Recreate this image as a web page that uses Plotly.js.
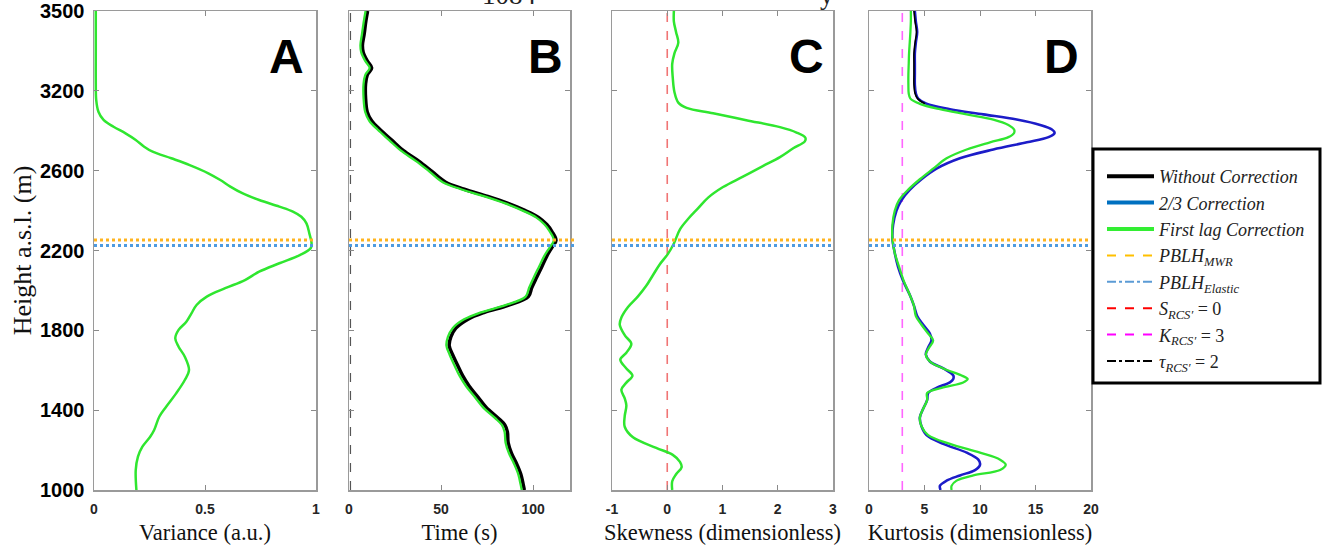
<!DOCTYPE html>
<html>
<head>
<meta charset="utf-8">
<script src="https://cdn.plot.ly/plotly-3.0.1.min.js"></script>
<style>html,body{margin:0;padding:0;background:#fff}#chart{width:1326px;height:550px}</style>
</head>
<body>
<div id="chart"></div>
<script>
// ---------- Data ----------
// Height axis tick labels (as printed in the reference)
const heightTicks = [1000, 1400, 1800, 2200, 2600, 3000, 3400];
const heightTickText = ['1000', '1400', '1800', '2200', '2600', '3200', '3500'];

// PBLH reference heights
const pblhMWR = 2253;
const pblhElastic = 2225;
// Reference vertical lines
const tauLineX = 0.8;
const skewRef = 0;
const kurtRef = 3;

// Panel A: Variance (First lag correction)
const heightA = [3400,3200,3054,2954,2895,2854,2820,2787,2754,2720,2695,2662,2628,2587,2553,2520,2487,2453,2420,2395,2369,2336,2286,2236,2211,2177,2136,2094,2052,2011,1969,1927,1885,1843,1802,1760,1718,1668,1601,1551,1484,1417,1367,1301,1267,1217,1167,1100,1000];
const varianceFirstLag = [0.008,0.008,0.008,0.010,0.020,0.043,0.088,0.142,0.188,0.226,0.264,0.348,0.431,0.515,0.569,0.614,0.668,0.744,0.835,0.896,0.934,0.957,0.970,0.980,0.976,0.927,0.835,0.744,0.680,0.591,0.508,0.462,0.439,0.416,0.381,0.366,0.381,0.409,0.428,0.409,0.370,0.325,0.294,0.271,0.253,0.218,0.198,0.188,0.191];

// Panel B: Time (s)
const heightB = [3400,3352,3282,3229,3194,3150,3115,3079,3035,2965,2894,2850,2806,2753,2700,2648,2595,2542,2507,2471,2436,2401,2366,2330,2295,2251,2216,2172,2119,2066,2013,1969,1925,1890,1855,1811,1767,1723,1679,1626,1573,1520,1467,1414,1361,1326,1291,1238,1185,1132,1079,1027,1000];
const timeNoCorr = [10.1,9.2,8.2,7.3,7.7,9.9,12.3,9.9,9.0,9.0,9.9,12.3,16.8,23.2,29.6,37.9,45.2,52.5,62.6,75.4,86.4,95.5,102.9,107.4,110.2,112.4,110.2,107.4,104.7,101.9,99.2,97.4,86.4,73.6,64.4,58.0,55.3,54.4,56.2,58.9,61.7,65.3,69.9,74.5,80.9,84.6,86.0,86.4,88.2,91.0,93.3,94.6,95.2];
const timeFirstLag = [9.0,8.1,7.0,6.2,6.6,8.8,11.2,8.8,7.9,7.9,8.8,11.0,15.5,21.8,28.2,36.4,43.7,50.9,60.8,73.6,84.8,94.0,101.6,106.2,109.0,111.2,109.0,106.0,103.2,100.4,97.8,95.9,84.6,71.6,62.5,56.3,53.7,52.9,54.6,57.2,60.0,63.6,68.2,72.8,79.2,83.0,84.5,85.0,86.8,89.6,91.9,93.2,93.8];

// Panel C: Skewness
const heightC = [3400,3347,3294,3241,3188,3135,3065,2994,2941,2915,2888,2853,2818,2791,2765,2747,2712,2668,2623,2570,2518,2465,2412,2359,2306,2235,2182,2129,2076,2023,1970,1917,1864,1829,1776,1732,1688,1653,1609,1573,1538,1503,1459,1423,1370,1317,1264,1211,1176,1141,1114,1079,1044,1000];
const skewFirstLag = [0.12,0.12,0.16,0.20,0.13,0.09,0.10,0.13,0.20,0.35,0.83,1.43,2.04,2.34,2.50,2.49,2.28,2.04,1.73,1.37,1.01,0.74,0.56,0.38,0.23,0.12,0.01,-0.14,-0.26,-0.38,-0.53,-0.71,-0.83,-0.86,-0.77,-0.65,-0.74,-0.85,-0.74,-0.63,-0.74,-0.83,-0.77,-0.74,-0.77,-0.77,-0.62,-0.20,0.10,0.23,0.26,0.16,0.09,0.09];

// Panel D: Kurtosis
const heightD = [3400,3347,3295,3242,3189,3137,3084,3031,2987,2961,2935,2908,2882,2856,2829,2806,2789,2768,2742,2706,2662,2610,2557,2504,2452,2399,2329,2259,2188,2118,2048,1978,1925,1872,1828,1784,1749,1714,1679,1644,1609,1574,1556,1539,1512,1486,1451,1407,1363,1319,1275,1231,1187,1152,1126,1100,1073,1047,1021,1000];
const kurtTwoThirds = [4.13,4.22,4.34,4.22,4.13,4.13,4.13,4.13,4.22,4.43,5.18,7.29,10.30,13.31,15.42,16.48,16.72,16.17,14.22,11.20,8.19,6.08,4.73,3.67,2.92,2.47,2.17,2.11,2.32,2.62,3.07,3.67,4.04,4.34,4.88,5.48,5.63,5.33,5.12,5.48,6.69,7.59,7.59,7.29,6.08,5.33,5.24,4.88,4.58,4.73,5.18,6.69,8.80,9.85,10.0,9.55,8.19,6.99,6.39,6.45];
const kurtFirstLag = [3.77,3.77,3.73,3.67,3.61,3.58,3.55,3.55,3.58,3.73,4.58,6.39,8.80,11.20,12.56,13.07,13.07,12.56,10.90,8.80,6.99,5.78,4.58,3.52,2.71,2.32,2.11,2.11,2.32,2.71,3.13,3.67,4.04,4.22,4.73,5.33,5.78,5.42,5.12,5.48,6.69,8.34,8.89,8.49,6.54,5.24,5.24,4.88,4.58,4.73,5.33,7.29,10.0,11.81,12.32,11.81,9.40,7.89,7.44,7.44];
const heightDNoCorr = [3400,3347,3295,3242,3189,3137,3084,3031,2987,2961,2935];
const kurtNoCorr = [4.05,4.15,4.28,4.15,4.05,4.05,4.05,4.05,4.15,4.38,5.05];

// Legend entries
const legendNames = [
  '<i>Without Correction</i>',
  '<i>2/3 Correction</i>',
  '<i>First lag Correction</i>',
  '<i>PBLH</i><sub><i>MWR</i></sub>',
  '<i>PBLH</i><sub><i>Elastic</i></sub>',
  '<i>S</i><sub><i>RCS\u2032</i></sub> = 0',
  '<i>K</i><sub><i>RCS\u2032</i></sub> = 3',
  '<i>\u03c4</i><sub><i>RCS\u2032</i></sub> = 2'
];

// ---------- Styles ----------
const GREEN = '#2fe62f';
const BLACK = '#000000';
const DBLUE = '#1c1cc8';
const ORANGE = '#ffb41e';
const LBLUE = '#4e9be0';

const W = 1326, H = 550;
const yTop = 11, yBot = 490;
const panels = [[94, 316], [349, 570], [612, 833], [869, 1091]];
const yDomain = [1 - yBot / H, 1 - yTop / H];
const legendBox = [1093, 149, 1320, 383];

function line(x, y, xa, ya, color, width) {
  return {type: 'scatter', mode: 'lines', x: x, y: y, xaxis: xa, yaxis: ya,
    line: {color: color, width: width, shape: 'spline', smoothing: 1.0},
    showlegend: false, hoverinfo: 'skip'};
}

const traces = [
  line(varianceFirstLag, heightA, 'x', 'y', GREEN, 2.5),
  line(timeNoCorr, heightB, 'x2', 'y2', BLACK, 3.5),
  line(timeFirstLag, heightB, 'x2', 'y2', GREEN, 2.3),
  line(skewFirstLag, heightC, 'x3', 'y3', GREEN, 2.5),
  line(kurtTwoThirds, heightD, 'x4', 'y4', DBLUE, 2.6),
  line(kurtNoCorr, heightDNoCorr, 'x4', 'y4', BLACK, 1.6),
  line(kurtFirstLag, heightD, 'x4', 'y4', GREEN, 2.3)
];

// Legend-only entries
const legendStyles = [
  {color: BLACK, width: 4, dash: 'solid'},
  {color: '#0070c0', width: 4, dash: 'solid'},
  {color: '#33ee33', width: 4, dash: 'solid'},
  {color: '#ffc000', width: 2, dash: 'dash'},
  {color: '#5b9bd5', width: 2, dash: 'dashdot'},
  {color: '#ff0000', width: 2, dash: 'dash'},
  {color: '#ff00ff', width: 2, dash: 'dash'},
  {color: '#000000', width: 2, dash: 'dashdot'}
];
legendNames.forEach((n, i) => {
  traces.push({type: 'scatter', mode: 'lines', x: [null], y: [null], xaxis: 'x', yaxis: 'y',
    name: n, legendgroup: 'g' + i, line: legendStyles[i], showlegend: true, hoverinfo: 'skip'});
});

const tickFontX = {family: 'Liberation Sans, Arial, sans-serif', size: 14, color: '#262626', weight: 'bold'};
const titleFont = {family: 'Liberation Serif, Times New Roman, serif', size: 22.5, color: '#111'};

function xax(i, range, tickvals, ticktext, title, standoff) {
  const p = panels[i];
  return {
    domain: [p[0] / W, p[1] / W], range: range, anchor: i === 0 ? 'y' : 'y' + (i + 1),
    tickmode: 'array', tickvals: tickvals, ticktext: ticktext,
    ticks: 'inside', ticklen: 5, tickcolor: '#8a8a8a', tickwidth: 1,
    showline: true, linecolor: '#9a9a9a', linewidth: 1.5, mirror: 'ticks',
    showgrid: false, zeroline: false, tickfont: tickFontX, ticklabelstandoff: 6,
    title: {text: title, font: titleFont, standoff: standoff}, automargin: false, fixedrange: true
  };
}
function yax(i) {
  const a = {
    domain: yDomain, range: [1000, 3400], anchor: i === 0 ? 'x' : 'x' + (i + 1),
    tickmode: 'array', tickvals: heightTicks, ticktext: heightTickText,
    ticks: 'inside', ticklen: 5, tickcolor: '#8a8a8a', tickwidth: 1,
    showline: true, linecolor: '#9a9a9a', linewidth: 1.5, mirror: 'ticks',
    showgrid: false, zeroline: false, showticklabels: i === 0,
    tickfont: {family: 'Liberation Sans, Arial, sans-serif', size: 20, color: '#000', weight: 'bold'},
    ticklabelstandoff: 4, automargin: false, fixedrange: true
  };
  if (i === 0) a.title = {text: 'Height a.s.l. (m)', font: {family: 'Liberation Serif, Times New Roman, serif', size: 26, color: '#111'}, standoff: 1};
  return a;
}

const shapes = [];
const axisIds = ['', '2', '3', '4'];
axisIds.forEach((id, i) => {
  const ext = i === 1 ? 1.03 : 1.0;
  shapes.push({type: 'line', xref: 'x' + id + ' domain', yref: 'y' + id, x0: 0, x1: ext, y0: pblhMWR, y1: pblhMWR,
    line: {color: ORANGE, width: 3, dash: 'dot'}});
  shapes.push({type: 'line', xref: 'x' + id + ' domain', yref: 'y' + id, x0: 0, x1: ext, y0: pblhElastic, y1: pblhElastic,
    line: {color: LBLUE, width: 3, dash: 'dot'}});
});
shapes.push({type: 'line', xref: 'x2', yref: 'y2 domain', x0: tauLineX, x1: tauLineX, y0: 0, y1: 1,
  line: {color: '#555', width: 1.2, dash: 'dash'}, layer: 'below'});
shapes.push({type: 'line', xref: 'x3', yref: 'y3 domain', x0: skewRef, x1: skewRef, y0: 0, y1: 1,
  line: {color: '#f07575', width: 1.6, dash: 'dash'}, layer: 'below'});
shapes.push({type: 'line', xref: 'x4', yref: 'y4 domain', x0: kurtRef, x1: kurtRef, y0: 0, y1: 1,
  line: {color: '#ff66ff', width: 1.6, dash: 'dash'}, layer: 'below'});
// legend frame
shapes.push({type: 'rect', xref: 'paper', yref: 'paper', layer: 'above',
  x0: legendBox[0] / W, x1: legendBox[2] / W, y0: 1 - legendBox[3] / H, y1: 1 - legendBox[1] / H,
  line: {color: '#000', width: 3}, fillcolor: '#fff'});

const letters = ['A', 'B', 'C', 'D'];
const letterX = [0.865, 0.89, 0.88, 0.865];
const annotations = letters.map((L, i) => ({
  text: L, xref: 'x' + axisIds[i] + ' domain', yref: 'y' + axisIds[i] + ' domain',
  x: letterX[i], y: 0.905, xanchor: 'center', yanchor: 'middle', showarrow: false,
  font: {family: 'Liberation Sans, Arial, sans-serif', size: 48, color: '#000', weight: 'bold'}
}));
// clipped page text fragments at the very top
annotations.push({text: '1084', xref: 'paper', yref: 'paper', x: 509 / W, y: 1 - 12 / H, xanchor: 'center', yanchor: 'bottom',
  showarrow: false, font: {family: 'Liberation Serif, serif', size: 27, color: '#222'}});
annotations.push({text: 'y', xref: 'paper', yref: 'paper', x: 836 / W, y: 1 - 12 / H, xanchor: 'right', yanchor: 'bottom',
  showarrow: false, font: {family: 'Liberation Serif, serif', size: 27, color: '#222'}});

const layout = {
  width: W, height: H, margin: {l: 0, r: 0, t: 0, b: 0},
  paper_bgcolor: '#fff', plot_bgcolor: '#fff',
  xaxis: xax(0, [0, 1], [0, 0.5, 1], ['0', '0.5', '1'], 'Variance (a.u.)', 8),
  xaxis2: xax(1, [0, 120], [0, 50, 100], ['0', '50', '100'], 'Time (s)', 8),
  xaxis3: xax(2, [-1, 3], [-1, 0, 1, 2, 3], ['-1', '0', '1', '2', '3'], 'Skewness (dimensionless)', 8),
  xaxis4: xax(3, [0, 20], [0, 5, 10, 15, 20], ['0', '5', '10', '15', '20'], 'Kurtosis (dimensionless)', 8),
  yaxis: yax(0), yaxis2: yax(1), yaxis3: yax(2), yaxis4: yax(3),
  shapes: shapes, annotations: annotations,
  showlegend: true,
  legend: {x: 1102 / W, y: 1 - 158 / H, xanchor: 'left', yanchor: 'top',
    bgcolor: 'rgba(0,0,0,0)', borderwidth: 0,
    font: {family: 'Liberation Serif, Times New Roman, serif', size: 18, color: '#222'},
    tracegroupgap: 0, itemwidth: 47, traceorder: 'grouped'}
};

Plotly.newPlot('chart', traces, layout, {displayModeBar: false, staticPlot: true});
</script>
</body>
</html>
